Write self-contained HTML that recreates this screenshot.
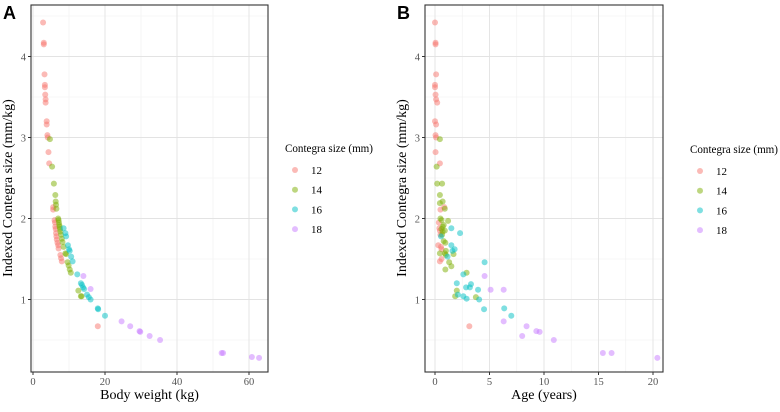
<!DOCTYPE html>
<html><head><meta charset="utf-8"><style>
body{margin:0;background:#fff;}
svg text{font-family:"Liberation Serif",serif;}
</style></head><body>
<svg width="780" height="407" viewBox="0 0 780 407" xmlns="http://www.w3.org/2000/svg">
<g id="root"></g>
</svg>
<script>
const sizes=["12","14","16","18"];
const colors=["#F8766D","#7CAE00","#00BFC4","#C77CFF"];
const yTicks=[1,2,3,4];
const xTicksA=[0,20,40,60];
const xTicksB=[0,5,10,15,20];
const aRed=[[2.8,4.42],[3.0,4.17],[3.0,4.15],[3.2,3.78],[3.3,3.65],[3.3,3.62],[3.4,3.53],[3.5,3.47],[3.5,3.43],[3.8,3.2],[3.8,3.16],[4.0,3.03],[4.1,3.0],[4.3,2.82],[4.5,2.68],[5.6,2.14],[5.6,2.11],[6.0,1.98],[6.1,1.95],[6.2,1.9],[6.3,1.87],[6.4,1.82],[6.5,1.78],[6.6,1.74],[6.8,1.7],[7.0,1.67],[7.1,1.63],[7.6,1.55],[7.8,1.51],[8.0,1.47],[18,0.67]];
const aGreen=[[4.7,2.98],[5.3,2.64],[5.8,2.43],[6.2,2.29],[6.3,2.21],[6.4,2.17],[6.5,2.12],[7,2.0],[7.1,1.98],[7.2,1.95],[7.3,1.92],[7.4,1.9],[7.5,1.87],[7.6,1.84],[7.8,1.8],[8,1.75],[8.2,1.71],[8.5,1.65],[9,1.57],[9.2,1.56],[9.6,1.46],[9.9,1.42],[10.2,1.37],[10.5,1.33],[12.6,1.11],[13.5,1.04],[13.3,1.04]];
const aCyan=[[8.5,1.88],[9,1.82],[9.2,1.78],[9.7,1.67],[10,1.62],[10.2,1.6],[10.6,1.53],[11,1.47],[12.3,1.31],[13.3,1.2],[13.6,1.18],[13.9,1.15],[14.2,1.13],[15,1.06],[15.5,1.03],[16,1.0],[18,0.89],[18.1,0.88],[20,0.8]];
const aPurple=[[14,1.29],[16,1.13],[24.6,0.73],[27,0.67],[29.6,0.61],[29.8,0.6],[32.4,0.55],[35.3,0.5],[52.4,0.34],[52.8,0.34],[60.8,0.29],[62.8,0.28]];
const bRed=[[0.0,4.42],[0.05,4.17],[0.05,4.15],[0.1,3.78],[0.0,3.65],[0.0,3.62],[0.05,3.53],[0.1,3.47],[0.2,3.43],[0.0,3.2],[0.1,3.16],[0.05,3.03],[0.1,3.0],[0.05,2.82],[0.45,2.68],[0.5,2.11],[0.85,2.14],[0.35,1.95],[0.4,1.88],[0.45,1.85],[0.5,1.8],[0.3,1.67],[0.55,1.65],[0.6,1.5],[0.45,1.47],[0.6,1.62],[3.15,0.67]];
const bGreen=[[0.45,2.98],[0.15,2.64],[0.2,2.43],[0.65,2.43],[0.45,2.29],[0.45,2.19],[0.7,2.21],[0.9,2.12],[0.5,2.0],[0.6,1.98],[1.2,1.97],[0.7,1.9],[0.8,1.92],[0.6,1.87],[0.7,1.84],[0.9,1.85],[0.65,1.8],[0.8,1.72],[0.95,1.7],[0.45,1.57],[0.9,1.57],[1.0,1.55],[1.0,1.6],[0.95,1.37],[1.3,1.46],[1.5,1.41],[1.7,1.56],[2.0,1.11],[1.85,1.04],[2.9,1.33],[3.75,1.03]];
const bCyan=[[0.55,1.78],[1.5,1.88],[2.3,1.82],[1.5,1.67],[1.6,1.6],[1.8,1.62],[1.15,1.53],[4.55,1.46],[2.6,1.31],[2.0,1.2],[3.3,1.19],[2.85,1.15],[3.2,1.15],[3.95,1.12],[2.1,1.06],[2.6,1.04],[2.9,1.01],[4.05,1.0],[4.5,0.88],[6.35,0.89],[7.0,0.8]];
const bPurple=[[4.55,1.29],[5.1,1.12],[6.3,1.12],[6.3,0.73],[8.4,0.67],[8.0,0.55],[9.3,0.61],[9.6,0.6],[10.9,0.5],[15.4,0.34],[16.2,0.34],[20.4,0.28]];

const NS="http://www.w3.org/2000/svg";
const root=document.getElementById('root');
function mk(tag,attrs,parent,text){const e=document.createElementNS(NS,tag);for(const k in attrs)e.setAttribute(k,attrs[k]);if(text!==undefined)e.textContent=text;(parent||root).appendChild(e);return e;}
const yScale=v=>380.5-81*v;
function panel(opt){
  const g=mk('g',{});
  
  
  const xs=v=>opt.x0+v*opt.k;
  const L=opt.left,R=opt.right,T=5,B=372;
  for(let v=0.5;v<=4.5;v+=1){mk('line',{x1:L,x2:R,y1:yScale(v),y2:yScale(v),stroke:'#f0f0f0','stroke-width':0.6},g);}
  for(let i=0;i<opt.xt.length;i++){const v=opt.xt[i]+opt.step/2;if(xs(v)<R)mk('line',{x1:xs(v),x2:xs(v),y1:T,y2:B,stroke:'#f0f0f0','stroke-width':0.6},g);}
  const hv=opt.xt[0]-opt.step/2; if(xs(hv)>L) mk('line',{x1:xs(hv),x2:xs(hv),y1:T,y2:B,stroke:'#f0f0f0','stroke-width':0.6},g);
  yTicks.forEach(v=>{mk('line',{x1:L,x2:R,y1:yScale(v),y2:yScale(v),stroke:'#e3e3e3','stroke-width':0.9},g);
    const t=mk('text',{x:L-5,y:yScale(v)+4,'text-anchor':'end','font-size':10.5,fill:'#555'},g,v);
    
    
    mk('line',{x1:L-3,x2:L,y1:yScale(v),y2:yScale(v),stroke:'#333'},g);});
  opt.xt.forEach(v=>{mk('line',{x1:xs(v),x2:xs(v),y1:T,y2:B,stroke:'#e3e3e3','stroke-width':0.9},g);
    const t=mk('text',{x:xs(v),y:B+13,'text-anchor':'middle','font-size':10.5,fill:'#555'},g,v);
    
    
    mk('line',{x1:xs(v),x2:xs(v),y1:B,y2:B+3,stroke:'#333'},g);});
  opt.series.forEach((s,i)=>{s.forEach(p=>{const c=mk('circle',{cx:xs(p[0]),cy:yScale(p[1]),r:3,fill:colors[i],'fill-opacity':0.5},g);
    
    });});
  const box=mk('rect',{x:L,y:T,width:R-L,height:B-T,fill:'none',stroke:'#333','stroke-width':1.1},g);
  
  
  const xt=mk('text',{x:(L+R)/2,y:399,'text-anchor':'middle','font-size':14,fill:'#000'},g,opt.xtitle);
  
  
  const yt=mk('text',{x:0,y:0,transform:'translate('+(opt.left-19)+',188) rotate(-90)','text-anchor':'middle','font-size':14,fill:'#000'},g,'Indexed Contegra size (mm/kg)');
  
  
  const lab=mk('text',{x:opt.labelX,y:19,'font-size':18,'font-weight':'bold',style:'font-family:"Liberation Sans",sans-serif'},g,opt.label);
  
  
  const lg=mk('g',{},g);
  
  
  mk('text',{x:opt.legX,y:opt.legY,'font-size':12,textLength:88,lengthAdjust:'spacingAndGlyphs'},lg,'Contegra size (mm)');
  sizes.forEach((s,i)=>{const yy=opt.legY+22+i*19.7;
    const c=mk('circle',{cx:opt.legX+10,cy:yy-4,r:3,fill:colors[i],'fill-opacity':0.5},lg);
    
    
    const t=mk('text',{x:opt.legX+26,y:yy,'font-size':11},lg,s);
    
    });
}
panel({name:'panel-a',left:31,right:268,x0:33,k:3.6,xt:xTicksA,step:20,series:[aRed,aGreen,aCyan,aPurple],xtitle:'Body weight (kg)',label:'A',labelX:3,legX:285,legY:152});
panel({name:'panel-b',left:425,right:663,x0:435,k:10.9,xt:xTicksB,step:5,series:[bRed,bGreen,bCyan,bPurple],xtitle:'Age (years)',label:'B',labelX:397,legX:690,legY:153});
</script>
</body></html>
